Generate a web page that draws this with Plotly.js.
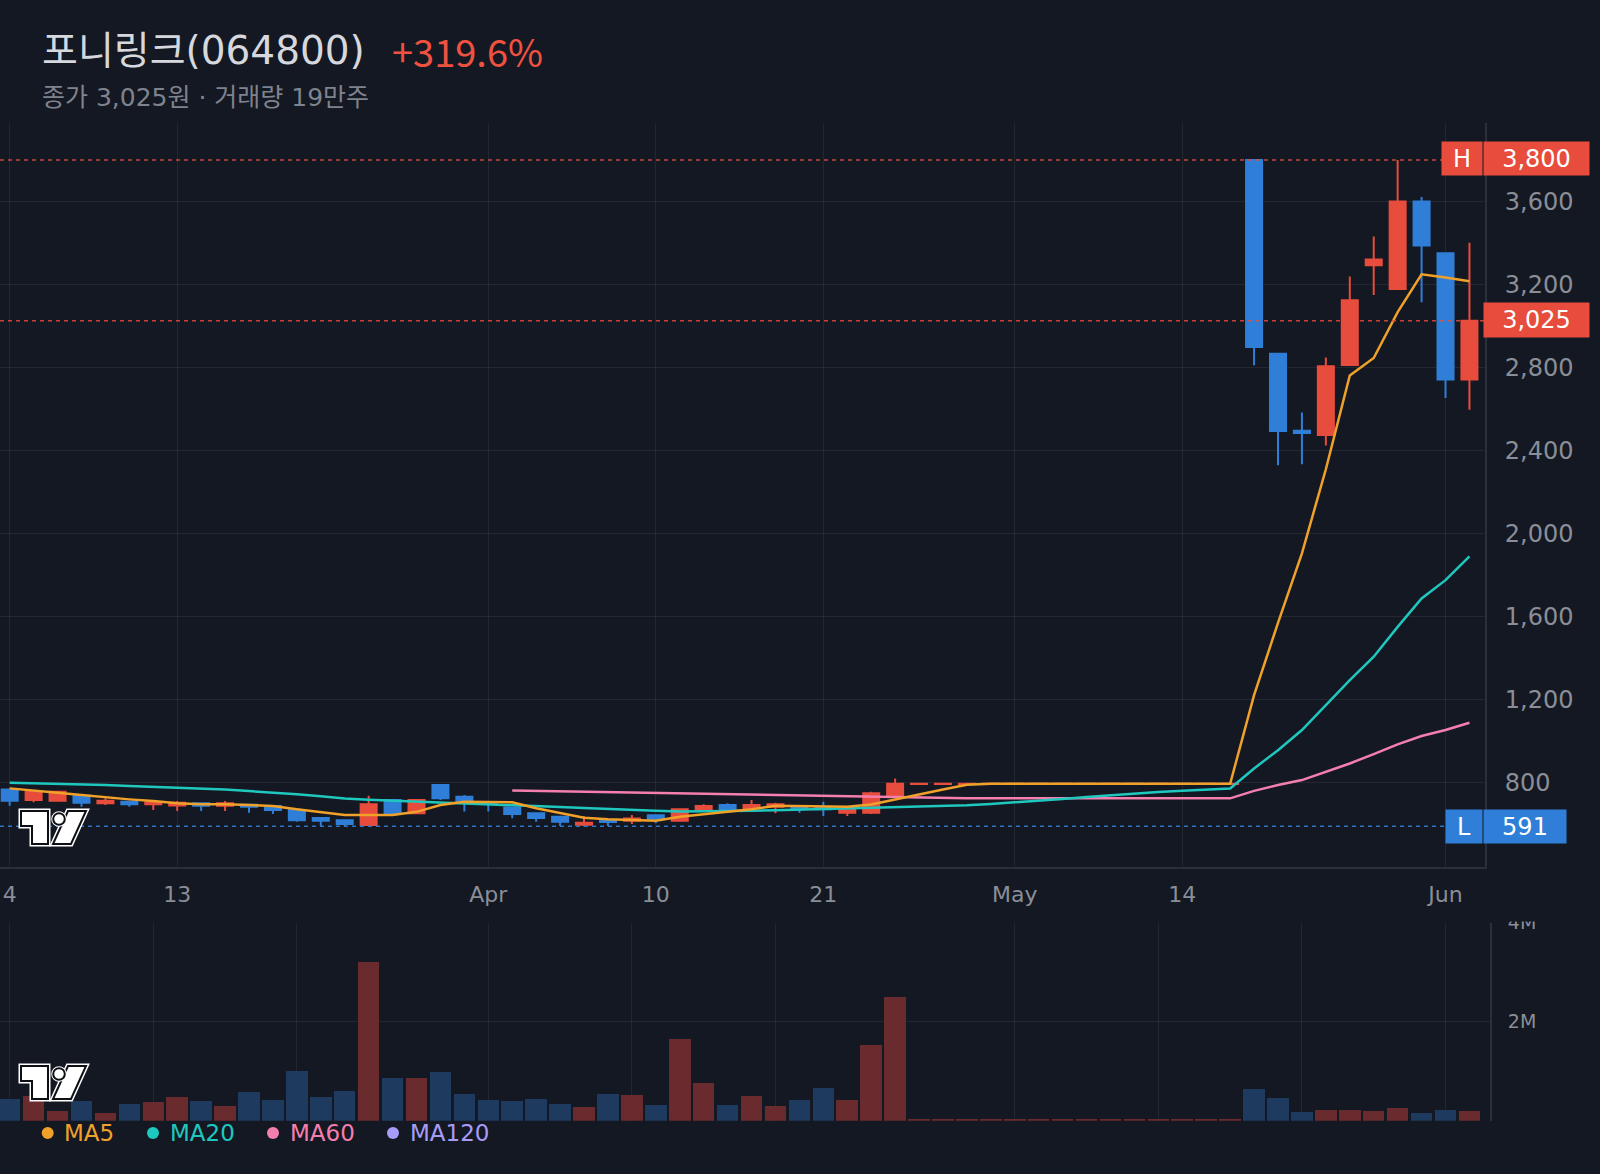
<!DOCTYPE html>
<html>
<head>
<meta charset="utf-8">
<script src="https://cdn.plot.ly/plotly-3.0.1.min.js"></script>
<style>
html,body{margin:0;padding:0;background:#141822;}
#chart{width:1600px;height:1174px;}
</style>
</head>
<body>
<div id="chart"></div>
<script>
// ---------------- DATA ----------------
const tickIdx  = [0, 7, 20, 27, 34, 42, 49, 60];
const tickText = ['4', '13', 'Apr', '10', '21', 'May', '14', 'Jun'];
const volGridIdx = [0, 6, 12, 20, 26, 32, 42, 48, 54, 60];

const priceTicks = [800, 1200, 1600, 2000, 2400, 2800, 3200, 3600];
const priceTickText = ['800', '1,200', '1,600', '2,000', '2,400', '2,800', '3,200', '3,600'];
const volTicks = [2000000, 4000000];
const volTickText = ['2M', '4M'];

const openP = [768,717,713,737,701,709,696,691,701,689, 694,688,669,630,619,596,717,653,789,733,
               706,681,653,636,598,620,617,643,617,669, 693,677,684,688,680,656,656,741,794,794,
               794,794,794,794,794,794,794,794,794,794, 794,794,3800,2867,2495,2475,2812,3293,3178,3600,
               3350,2742];
const highP = [768,757,757,737,725,709,706,712,701,712, 694,688,669,630,624,737,717,717,789,741,
               709,681,653,640,640,620,645,643,677,697, 701,717,704,693,709,672,757,821,795,795,
               795,795,795,795,795,795,795,795,795,795, 795,795,3800,2867,2583,2848,3239,3431,3800,3621,
               3350,3401];
const lowP  = [689,706,713,684,693,684,669,664,664,664, 656,649,612,592,591,596,653,653,717,661,
               661,629,612,592,591,592,601,605,612,669, 669,672,653,656,640,640,649,741,794,794,
               794,794,794,794,794,794,794,794,794,794, 794,794,2811,2329,2334,2424,2812,3149,3178,3115,
               2653,2597];
const closeP = [713,757,757,704,713,696,706,704,689,701, 684,669,620,617,601,697,653,717,725,709,
                698,649,630,612,607,611,628,624,672,688, 669,693,697,677,673,672,749,795,795,795,
                795,795,795,795,795,795,795,795,795,795, 795,795,2899,2494,2485,2806,3124,3320,3600,3388,
                2742,3025];
const volume = [440000,500000,200000,400000,160000,340000,380000,480000,400000,300000,
                580000,420000,1000000,480000,600000,3210000,860000,860000,980000,540000,
                420000,400000,440000,340000,280000,540000,520000,320000,1650000,760000,
                320000,500000,300000,420000,660000,420000,1530000,2500000,30000,30000,
                30000,30000,30000,30000,30000,30000,30000,30000,30000,30000,
                30000,30000,640000,460000,175000,215000,215000,195000,256000,155000,
                215000,195000];

const ma5 = [773,761,752,741,730,720,712,701,697,697, 693,688,672,658,645,645,645,660,693,709,
             709,706,677,653,632,624,620,617,636,649, 660,672,689,688,684,684,695,720,743,768,
             790,795,795,795,795,795,795,795,795,795, 795,795,1222,1570,1905,2310,2762,2846,3067,3249,
             3234,3216];
const ma20 = [800,798,795,792,789,785,781,777,772,767, 760,753,745,735,724,718,714,710,706,702,
              698,693,688,683,678,673,668,665,662,662, 663,665,668,671,674,676,677,680,683,687,
              692,698,705,713,722,731,740,748,755,761, 767,772,869,957,1054,1174,1294,1407,1551,1688,
              1776,1891];
const ma60Start = 21;
const ma60 = [763,761,759,757,755,753,751,749,746, 743,741,739,737,735,732,730,728,727,726,
              725,725,725,725,725,725,725,725,725,725, 725,725,761,789,813,853,893,938,985,1025,
              1054,1089];

const highVal = 3800, lastVal = 3025, lowVal = 591;
const legendNames = ['MA5', 'MA20', 'MA60', 'MA120'];

// ---------------- STYLE ----------------
const W = 1600, H = 1174;
const BG = '#141822';
const GRID = 'rgba(255,255,255,0.065)';
const AXLINE = '#2b2f3a';
const TXT = '#8a8e98';
const UP = '#e74c3c', DOWN = '#2f7ed8';
const VUP = '#6a2b2e', VDOWN = '#1e3a5e';
const MA_COL = ['#f0a12a', '#1fc8bf', '#f47fae', '#a79cf7'];
const px = x => x / W;
const py = y => 1 - y / H;

const idx = openP.map((_, i) => i);
const idx60 = ma60.map((_, i) => i + ma60Start);

const traces = [
  {
    type: 'candlestick', x: idx, open: openP, high: highP, low: lowP, close: closeP,
    xaxis: 'x', yaxis: 'y',
    increasing: {line: {color: UP, width: 2}, fillcolor: UP},
    decreasing: {line: {color: DOWN, width: 2}, fillcolor: DOWN},
    whiskerwidth: 0, hoverinfo: 'skip'
  },
  {type: 'scatter', mode: 'lines', x: idx60, y: ma60, xaxis: 'x', yaxis: 'y',
   line: {color: MA_COL[2], width: 2.5}, hoverinfo: 'skip'},
  {type: 'scatter', mode: 'lines', x: idx, y: ma20, xaxis: 'x', yaxis: 'y',
   line: {color: MA_COL[1], width: 2.5}, hoverinfo: 'skip'},
  {type: 'scatter', mode: 'lines', x: idx, y: ma5, xaxis: 'x', yaxis: 'y',
   line: {color: MA_COL[0], width: 2.5}, hoverinfo: 'skip'},
  {type: 'bar', x: idx, y: volume, xaxis: 'x2', yaxis: 'y2', width: 0.9,
   marker: {color: idx.map(i => closeP[i] >= openP[i] ? VUP : VDOWN), line: {width: 0}},
   hoverinfo: 'skip'}
];

// ---------------- SHAPES ----------------
const shapes = [];
function hline(val, x1px, color) {
  shapes.push({type: 'line', xref: 'paper', yref: 'y', x0: 0, x1: px(x1px), y0: val, y1: val,
               line: {color: color, width: 1.5, dash: '4px,4px'}, layer: 'above'});
}
hline(highVal, 1442, 'rgba(231,76,60,0.85)');
hline(lastVal, 1484, 'rgba(231,76,60,0.85)');
hline(lowVal, 1446, 'rgba(47,126,216,0.9)');

// cover the top half of the clipped "4M" label
shapes.push({type: 'rect', xref: 'paper', yref: 'paper', x0: px(1488), x1: 1, y0: py(921.5), y1: py(872),
             fillcolor: BG, line: {width: 0}, layer: 'above'});

// TradingView-like watermark logos
function logo(ox, oy) {
  const P = pts => 'M ' + pts.map(p => px(ox + p[0]) + ',' + py(oy + p[1])).join(' L ') + ' Z';
  const tPiece = P([[0,0],[27,0],[27,33],[11,33],[11,15],[0,15]]);
  const slash = P([[47,0],[65,0],[50,33],[32,33]]);
  [tPiece, slash].forEach(d => {
    shapes.push({type: 'path', xref: 'paper', yref: 'paper', path: d, fillcolor: '#ffffff',
                 line: {color: '#ffffff', width: 5}, layer: 'above'});
    shapes.push({type: 'path', xref: 'paper', yref: 'paper', path: d, fillcolor: '#ffffff',
                 line: {color: '#0d0f14', width: 2}, layer: 'above'});
  });
  const cx = ox + 38, cy = oy + 8, r = 5.8;
  shapes.push({type: 'circle', xref: 'paper', yref: 'paper', x0: px(cx - r), x1: px(cx + r),
               y0: py(cy + r), y1: py(cy - r), fillcolor: '#ffffff', line: {color: '#ffffff', width: 4}, layer: 'above'});
  shapes.push({type: 'circle', xref: 'paper', yref: 'paper', x0: px(cx - r), x1: px(cx + r),
               y0: py(cy + r), y1: py(cy - r), fillcolor: '#ffffff', line: {color: '#0d0f14', width: 2}, layer: 'above'});
}
logo(21, 811);
logo(21, 1066);

// legend dots
const legendDotX = [47.7, 153, 273, 393];
const legendTextX = [62, 168, 288, 408];
legendDotX.forEach((x, i) => {
  shapes.push({type: 'circle', xref: 'paper', yref: 'paper', x0: px(x - 6), x1: px(x + 6),
               y0: py(1133 + 6), y1: py(1133 - 6), fillcolor: MA_COL[i], line: {width: 0}});
});

// ---------------- ANNOTATIONS ----------------
const ann = [];
ann.push({xref: 'paper', yref: 'paper', x: px(40), y: py(51), xanchor: 'left', yanchor: 'middle',
          text: '포니링크(064800)', showarrow: false,
          font: {family: 'DejaVu Sans, Noto Sans CJK KR', size: 39, color: '#d6d8de'}});
ann.push({xref: 'paper', yref: 'paper', x: px(390), y: py(51), xanchor: 'left', yanchor: 'middle',
          text: '+319.6%', showarrow: false,
          font: {family: 'Noto Sans CJK KR', size: 38, color: '#ef5240'}});
ann.push({xref: 'paper', yref: 'paper', x: px(40), y: py(97), xanchor: 'left', yanchor: 'middle',
          text: '종가 3,025원 · 거래량 19만주', showarrow: false,
          font: {family: 'DejaVu Sans, Noto Sans CJK KR', size: 25, color: '#7f838d'}});

function tag(text, cxPx, cyPx, w, h, bg) {
  ann.push({xref: 'paper', yref: 'paper', x: px(cxPx), y: py(cyPx), xanchor: 'center', yanchor: 'middle',
            text: text, showarrow: false, bgcolor: bg, width: w, height: h, borderpad: 0, align: 'center',
            valign: 'middle', font: {family: 'DejaVu Sans', size: 24, color: '#ffffff'}});
}
tag('H', 1462, 158.5, 40, 33, UP);
tag('3,800', 1536.5, 158.5, 105, 33, UP);
tag('3,025', 1536.5, 320, 105, 34, UP);
tag('L', 1464, 826.5, 36, 33, DOWN);
tag('591', 1525, 826.5, 82, 33, DOWN);

legendNames.forEach((n, i) => {
  ann.push({xref: 'paper', yref: 'paper', x: px(legendTextX[i]), y: py(1133), xanchor: 'left', yanchor: 'middle',
            text: n, showarrow: false, font: {family: 'DejaVu Sans', size: 23, color: MA_COL[i]}});
});

// ---------------- LAYOUT ----------------
const xRange = [-0.405, 61.65];
const layout = {
  width: W, height: H,
  margin: {l: 0, r: 0, t: 0, b: 0, pad: 0},
  paper_bgcolor: BG, plot_bgcolor: BG,
  showlegend: false, hovermode: false,
  boxgap: 0.33, boxgroupgap: 0,
  bargap: 0,
  xaxis: {
    domain: [0, px(1485)], range: xRange, anchor: 'y',
    tickmode: 'array', tickvals: tickIdx, ticktext: tickText,
    showgrid: true, gridcolor: GRID, gridwidth: 1, zeroline: false,
    showline: true, linecolor: AXLINE, linewidth: 2,
    ticks: '', ticklabelstandoff: 7,
    tickfont: {family: 'DejaVu Sans', size: 22, color: TXT},
    rangeslider: {visible: false}, fixedrange: true
  },
  yaxis: {
    domain: [py(866.7), py(122.5)], range: [395.7, 3980.3], anchor: 'x', side: 'right',
    tickmode: 'array', tickvals: priceTicks, ticktext: priceTickText,
    showgrid: true, gridcolor: GRID, gridwidth: 1, zeroline: false,
    showline: true, linecolor: AXLINE, linewidth: 2,
    ticks: '', ticklabelstandoff: 13,
    tickfont: {family: 'DejaVu Sans', size: 24, color: TXT}, fixedrange: true
  },
  xaxis2: {
    domain: [0, px(1490)], range: [-0.405, 61.86], anchor: 'y2',
    tickmode: 'array', tickvals: volGridIdx, showticklabels: false,
    showgrid: true, gridcolor: GRID, gridwidth: 1, zeroline: false, showline: false,
    ticks: '', fixedrange: true
  },
  yaxis2: {
    domain: [py(1120.7), py(922.7)], range: [0, 4000000], anchor: 'x2', side: 'right',
    tickmode: 'array', tickvals: volTicks, ticktext: volTickText,
    showgrid: true, gridcolor: GRID, gridwidth: 1, zeroline: false,
    showline: true, linecolor: AXLINE, linewidth: 2,
    ticks: '', ticklabelstandoff: 12,
    tickfont: {family: 'DejaVu Sans', size: 19, color: TXT}, fixedrange: true
  },
  shapes: shapes,
  annotations: ann
};

Plotly.newPlot('chart', traces, layout, {staticPlot: true, displayModeBar: false});
</script>
</body>
</html>
